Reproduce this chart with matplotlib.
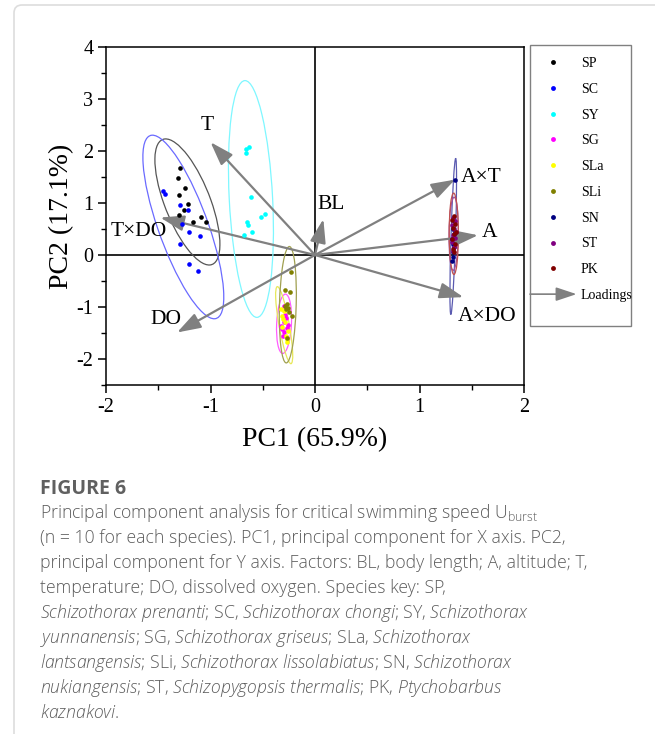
import numpy as np
import matplotlib
matplotlib.use('Agg')
import matplotlib.pyplot as plt
from matplotlib.patches import Ellipse, FancyArrowPatch, FancyBboxPatch, Rectangle
from matplotlib.lines import Line2D
from matplotlib.legend_handler import HandlerBase
from matplotlib.transforms import IdentityTransform

plt.rcParams['axes.unicode_minus'] = False
plt.rcParams['mathtext.fontset'] = 'custom'
plt.rcParams['mathtext.rm'] = 'Open Sans:light'
plt.rcParams['mathtext.it'] = 'Open Sans:italic:light'

# ---------------- data ----------------
species = ['SP', 'SC', 'SY', 'SG', 'SLa', 'SLi', 'SN', 'ST', 'PK']
colors = ['#000000', '#0000FF', '#00FFFF', '#FF00FF', '#FFFF00',
          '#808000', '#000080', '#800080', '#800000']
ellipse_colors = ['#555555', '#6a6aff', '#7ff7ff', '#ff5cff', '#e8e85a',
                  '#a0a050', '#5a5ab0', '#a050a0', '#c05050']

sp_x = [-1.29, -1.31, -1.24, -1.30, -1.30, -1.17, -1.09, -1.04, -1.22, -1.25]
sp_y = [1.67, 1.48, 1.29, 1.15, 0.77, 0.63, 0.73, 0.63, 0.98, 0.87]
sc_x = [-1.45, -1.44, -1.29, -1.22, -1.27, -1.21, -1.10, -1.29, -1.21, -1.12]
sc_y = [1.24, 1.18, 0.96, 0.86, 0.60, 0.45, 0.36, 0.21, -0.17, -0.30]
sy_x = [-0.66, -0.63, -0.66, -0.61, -0.65, -0.64, -0.52, -0.48, -0.60, -0.68]
sy_y = [2.04, 2.08, 1.96, 1.11, 0.64, 0.58, 0.74, 0.79, 0.45, 0.38]
sg_x = [-0.30, -0.29, -0.28, -0.33, -0.32, -0.30, -0.27, -0.31, -0.30, -0.26]
sg_y = [-0.98, -1.15, -1.21, -1.37, -1.42, -1.49, -1.41, -1.56, -1.29, -1.35]
sla_x = [-0.33, -0.32, -0.29, -0.31, -0.28, -0.27, -0.32, -0.26, -0.30, -0.27]
sla_y = [-1.04, -1.17, -1.29, -1.23, -1.55, -1.62, -1.38, -1.46, -1.08, -1.67]
sli_x = [-0.23, -0.29, -0.24, -0.27, -0.26, -0.28, -0.22, -0.27, -0.25, -0.29]
sli_y = [-0.33, -0.67, -0.72, -0.94, -1.01, -1.04, -1.17, -1.60, -1.10, -0.98]
sn_x = [1.34, 1.33, 1.32, 1.33, 1.31, 1.32, 1.33, 1.32, 1.32, 1.31]
sn_y = [1.45, 0.65, 0.50, 0.40, 0.30, 0.22, 0.15, 0.05, -0.04, -0.11]
st_x = [1.32, 1.34, 1.31, 1.33, 1.35, 1.32, 1.34, 1.31, 1.33, 1.32]
st_y = [0.72, 0.65, 0.58, 0.50, 0.45, 0.38, 0.32, 0.25, 0.15, 0.08]
pk_x = [1.33, 1.31, 1.34, 1.32, 1.35, 1.33, 1.31, 1.34, 1.32, 1.33]
pk_y = [0.75, 0.68, 0.60, 0.52, 0.44, 0.40, 0.30, 0.22, 0.12, 0.05]

groups_x = [sp_x, sc_x, sy_x, sg_x, sla_x, sli_x, sn_x, st_x, pk_x]
groups_y = [sp_y, sc_y, sy_y, sg_y, sla_y, sli_y, sn_y, st_y, pk_y]

load_names = ['T', 'BL', 'A\u00d7T', 'A', 'A\u00d7DO', 'T\u00d7DO', 'DO']
load_x = [-1.00, 0.08, 1.34, 1.56, 1.42, -1.48, -1.32]
load_y = [2.17, 0.69, 1.45, 0.38, -0.81, 0.72, -1.49]
label_x = [-1.03, 0.15, 1.59, 1.67, 1.65, -1.69, -1.43]
label_y = [2.50, 0.98, 1.50, 0.44, -1.19, 0.46, -1.25]

x_ticks = [-2, -1, 0, 1, 2]
y_ticks = [-2, -1, 0, 1, 2, 3, 4]

caption_title = 'FIGURE 6'
caption_lines = [
    r'Principal component analysis for critical swimming speed U$_{\mathrm{burst}}$',
    '(n = 10 for each species). PC1, principal component for X axis. PC2,',
    'principal component for Y axis. Factors: BL, body length; A, altitude; T,',
    'temperature; DO, dissolved oxygen. Species key: SP,',
    r'$\mathit{Schizothorax\ prenanti}$; SC, $\mathit{Schizothorax\ chongi}$; SY, $\mathit{Schizothorax}$',
    r'$\mathit{yunnanensis}$; SG, $\mathit{Schizothorax\ griseus}$; SLa, $\mathit{Schizothorax}$',
    r'$\mathit{lantsangensis}$; SLi, $\mathit{Schizothorax\ lissolabiatus}$; SN, $\mathit{Schizothorax}$',
    r'$\mathit{nukiangensis}$; ST, $\mathit{Schizopygopsis\ thermalis}$; PK, $\mathit{Ptychobarbus}$',
    r'$\mathit{kaznakovi}$.',
]

# ---------------- figure ----------------
W, H = 655, 734
fig = plt.figure(figsize=(W / 100, H / 100), dpi=100)

# card border
card = FancyBboxPatch((14, -30), 700, 729 + 30, boxstyle='round,pad=0,rounding_size=8',
                      transform=IdentityTransform(), fill=False, ec='#dddddd', lw=1.2)
fig.add_artist(card)

ax = fig.add_axes([106 / W, 1 - 385 / H, (524 - 106) / W, (385 - 47) / H])
ax.set_xlim(-2, 2)
ax.set_ylim(-2.5, 4)
serif = 'Liberation Serif'

ax.axhline(0, color='black', lw=1.2, zorder=1)
ax.axvline(0, color='black', lw=1.2, zorder=1)

F95 = 4.459  # F(0.95; 2, 8)


def conf_ellipse(x, y, color):
    x = np.asarray(x); y = np.asarray(y)
    n = len(x)
    cov = np.cov(x, y)
    vals, vecs = np.linalg.eigh(cov)
    k = np.sqrt(2 * (n + 1) * (n - 1) / (n * (n - 2)) * F95)
    order = vals.argsort()[::-1]
    vals, vecs = vals[order], vecs[:, order]
    ang = np.degrees(np.arctan2(vecs[1, 0], vecs[0, 0]))
    e = Ellipse((x.mean(), y.mean()), 2 * k * np.sqrt(vals[0]), 2 * k * np.sqrt(vals[1]),
                angle=ang, fill=False, ec=color, lw=0.9, zorder=2)
    ax.add_patch(e)


for gx, gy, c in zip(groups_x, groups_y, ellipse_colors):
    conf_ellipse(gx, gy, c)
for gx, gy, c, s in zip(groups_x, groups_y, colors, species):
    ax.scatter(gx, gy, s=11, color=c, zorder=4, linewidths=0)

arrow_color = '#808080'
for lx, ly, name, tx, ty in zip(load_x, load_y, load_names, label_x, label_y):
    ax.annotate('', xy=(lx, ly), xytext=(0, 0),
                arrowprops=dict(arrowstyle='-|>,head_length=0.9,head_width=0.3',
                                mutation_scale=16, color=arrow_color, lw=1.6,
                                shrinkA=0, shrinkB=0), zorder=3)
    ax.text(tx, ty, name, fontsize=15.5, family=serif, ha='center', va='center', zorder=5)

ax.set_xticks(x_ticks)
ax.set_yticks(y_ticks)
ax.set_xticks(np.arange(-1.5, 2, 1.0), minor=True)
ax.set_yticks(np.arange(-2.5, 4, 1.0), minor=True)
ax.tick_params(which='major', direction='out', length=6, width=1.1, labelsize=14.5, pad=3)
ax.tick_params(which='minor', direction='out', length=3.5, width=1.0)
for lab in ax.get_xticklabels() + ax.get_yticklabels():
    lab.set_family(serif)
for sp in ax.spines.values():
    sp.set_linewidth(1.1)
ax.set_xlabel('PC1 (65.9%)', family=serif, fontsize=20, labelpad=7.5)
ax.set_ylabel('PC2 (17.1%)', family=serif, fontsize=20, labelpad=1.5)


# legend
class ArrowHandler(HandlerBase):
    def create_artists(self, legend, orig_handle, xdescent, ydescent, width, height,
                       fontsize, trans):
        yc = height / 2 - ydescent
        p = FancyArrowPatch((-xdescent, yc), (-xdescent + width, yc),
                            arrowstyle='-|>,head_length=0.9,head_width=0.3',
                            mutation_scale=14, color=arrow_color, lw=1.2,
                            shrinkA=0, shrinkB=0, transform=trans)
        return [p]


handles = [Line2D([], [], marker='o', ls='', color=c, markersize=3.5, markeredgewidth=0)
           for c in colors]
loading_handle = FancyArrowPatch((0, 0), (1, 1))
handles.append(loading_handle)
labels = species + ['Loadings']
fig.legend(handles, labels, loc='upper left', bbox_to_anchor=(530 / W, 1 - 57 / H),
           frameon=False, prop={'family': serif, 'size': 10},
           handlelength=3.35, handletextpad=0.3, labelspacing=0.92,
           borderpad=0, borderaxespad=0,
           handler_map={FancyArrowPatch: ArrowHandler()})
fig.add_artist(Rectangle((530 / W, 1 - 326 / H), 101 / W, (326 - 45) / H,
                         transform=fig.transFigure, fill=False, ec='#808080', lw=1.0))

# caption
cap_color = '#5c5c5c'
fig.text(40 / W, 1 - 494 / H, caption_title, family='Open Sans', fontweight='bold',
         fontsize=14, color='#606060', va='baseline')
for i, line in enumerate(caption_lines):
    fig.text(40 / W, 1 - (517.5 + 25.1 * i) / H, line, family='Open Sans', fontsize=12.7,
             fontweight='light', color=cap_color, va='baseline')

fig.savefig('out.png', dpi=100)
